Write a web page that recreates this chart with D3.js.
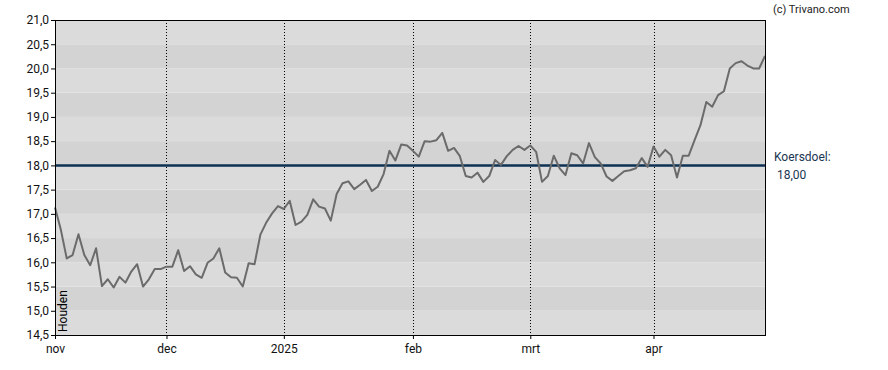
<!DOCTYPE html>
<html>
<head>
<meta charset="utf-8">
<script src="https://cdn.jsdelivr.net/npm/d3@7"></script>
<style>
    body { margin: 0; background: #fff; }
    svg { display: block; font-family: Roboto, "Liberation Sans", sans-serif; }
</style>
</head>
<body>
<svg></svg>
<script>
// Slotkoersen per handelsdag (nov 2024 - apr 2025)
const koersen = [
    17.13, 16.67, 16.08, 16.15, 16.58, 16.15, 15.94, 16.29, 15.51, 15.65,
    15.48, 15.70, 15.58, 15.81, 15.96, 15.50, 15.65, 15.86, 15.86, 15.91,
    15.91, 16.25, 15.82, 15.92, 15.75, 15.68, 15.99, 16.08, 16.29, 15.79,
    15.69, 15.68, 15.50, 15.98, 15.96, 16.57, 16.82, 17.01, 17.16, 17.10,
    17.27, 16.77, 16.84, 16.98, 17.30, 17.15, 17.11, 16.86, 17.41, 17.63,
    17.67, 17.51, 17.60, 17.70, 17.47, 17.56, 17.82, 18.30, 18.10, 18.43,
    18.41, 18.30, 18.18, 18.50, 18.49, 18.52, 18.67, 18.30, 18.36, 18.19,
    17.78, 17.75, 17.85, 17.66, 17.78, 18.11, 18.01, 18.19, 18.32, 18.40,
    18.32, 18.41, 18.28, 17.66, 17.78, 18.20, 17.94, 17.80, 18.25, 18.21,
    18.04, 18.46, 18.17, 18.04, 17.77, 17.68, 17.78, 17.88, 17.90, 17.94,
    18.15, 17.97, 18.39, 18.18, 18.32, 18.21, 17.75, 18.20, 18.20, 18.52,
    18.83, 19.31, 19.21, 19.45, 19.53, 20.00, 20.11, 20.15, 20.06, 20.00,
    20.00, 20.26
];

// Eerste handelsdag van elke maand (index in koersen) en het label
const maandIndex = [0, 19, 39, 61, 81, 102];
const maandLabels = ["nov", "dec", "2025", "feb", "mrt", "apr"];

const koersdoel = 18.00;
const advies = "Houden";
const yTicks = d3.range(29, 43).map(d => d / 2);

const width = 888;
const height = 370;
const margin = { top: 20, right: 123, bottom: 35, left: 55 };
const innerWidth = width - margin.left - margin.right;
const innerHeight = height - margin.top - margin.bottom;

const komma = v => d3.format(".1f")(v).replace(".", ",");

// Schalen
const xScale = d3.scaleLinear()
    .domain([0, koersen.length - 1])
    .range([0, innerWidth]);

const yScale = d3.scaleLinear()
    .domain([14.5, 21])
    .range([innerHeight, 0]);

const svg = d3.select("svg")
    .attr("width", width)
    .attr("height", height);

const g = svg.append("g")
    .attr("transform", `translate(${margin.left},${margin.top})`);

// Achtergrondbanden
g.selectAll("rect.band")
    .data(yTicks.slice(0, -1))
    .enter()
    .append("rect")
    .attr("class", "band")
    .attr("x", 0)
    .attr("width", innerWidth)
    .attr("y", d => yScale(d + 0.5))
    .attr("height", d => yScale(d) - yScale(d + 0.5))
    .attr("fill", (d, i) => i % 2 === 0 ? "#dbdbdb" : "#d3d3d3");

// Verticale stippellijnen per maand
g.selectAll("line.maand")
    .data(maandIndex.slice(1))
    .enter()
    .append("line")
    .attr("class", "maand")
    .attr("x1", d => Math.round(xScale(d)) + 0.5)
    .attr("x2", d => Math.round(xScale(d)) + 0.5)
    .attr("y1", 0)
    .attr("y2", innerHeight)
    .attr("stroke", "#000")
    .attr("stroke-width", 1)
    .attr("stroke-dasharray", "1,2");

// Koersdoel lijn
g.append("line")
    .attr("x1", 0)
    .attr("x2", innerWidth)
    .attr("y1", yScale(koersdoel))
    .attr("y2", yScale(koersdoel))
    .attr("stroke", "#4a6a88")
    .attr("stroke-width", 3);

g.append("line")
    .attr("x1", 0)
    .attr("x2", innerWidth)
    .attr("y1", yScale(koersdoel))
    .attr("y2", yScale(koersdoel))
    .attr("stroke", "#12304d")
    .attr("stroke-width", 1.5);

// Koerslijn
const line = d3.line()
    .x((d, i) => xScale(i))
    .y(d => yScale(d));

g.append("path")
    .datum(koersen)
    .attr("fill", "none")
    .attr("stroke", "#6b6b6b")
    .attr("stroke-width", 2)
    .attr("stroke-linejoin", "round")
    .attr("d", line);

// Kader
g.append("rect")
    .attr("x", 0.5)
    .attr("y", 0.5)
    .attr("width", innerWidth)
    .attr("height", innerHeight)
    .attr("fill", "none")
    .attr("stroke", "#000")
    .attr("stroke-width", 1);

// Assen
const yAxis = d3.axisLeft(yScale)
    .tickValues(yTicks)
    .tickFormat(komma)
    .tickSize(4)
    .tickPadding(2);

const xAxis = d3.axisBottom(xScale)
    .tickValues(maandIndex)
    .tickFormat((d, i) => maandLabels[i])
    .tickSize(4)
    .tickPadding(5);

g.append("g")
    .attr("class", "y-axis")
    .call(yAxis);

g.append("g")
    .attr("class", "x-axis")
    .attr("transform", `translate(0,${innerHeight})`)
    .call(xAxis);

g.selectAll(".domain").remove();
g.selectAll(".tick line").attr("stroke", "#000");
g.selectAll(".tick text")
    .attr("fill", "#111")
    .style("font-size", "12px")
    .style("font-family", "Roboto, sans-serif");

// Advies label
g.append("text")
    .attr("transform", `translate(${12},${innerHeight - 3}) rotate(-90)`)
    .attr("fill", "#000")
    .style("font-size", "12px")
    .text(advies);

// Koersdoel tekst rechts
svg.append("text")
    .attr("x", margin.left + innerWidth + 9)
    .attr("y", margin.top + yScale(koersdoel) - 4)
    .attr("fill", "#1a3652")
    .style("font-size", "12px")
    .text("Koersdoel:");

svg.append("text")
    .attr("x", margin.left + innerWidth + 12)
    .attr("y", margin.top + yScale(koersdoel) + 14)
    .attr("fill", "#1a3652")
    .style("font-size", "12px")
    .text(d3.format(".2f")(koersdoel).replace(".", ","));

// Bron
svg.append("text")
    .attr("x", 773)
    .attr("y", 13)
    .attr("fill", "#222")
    .style("font-size", "11px")
    .text("(c) Trivano.com");
</script>
</body>
</html>
